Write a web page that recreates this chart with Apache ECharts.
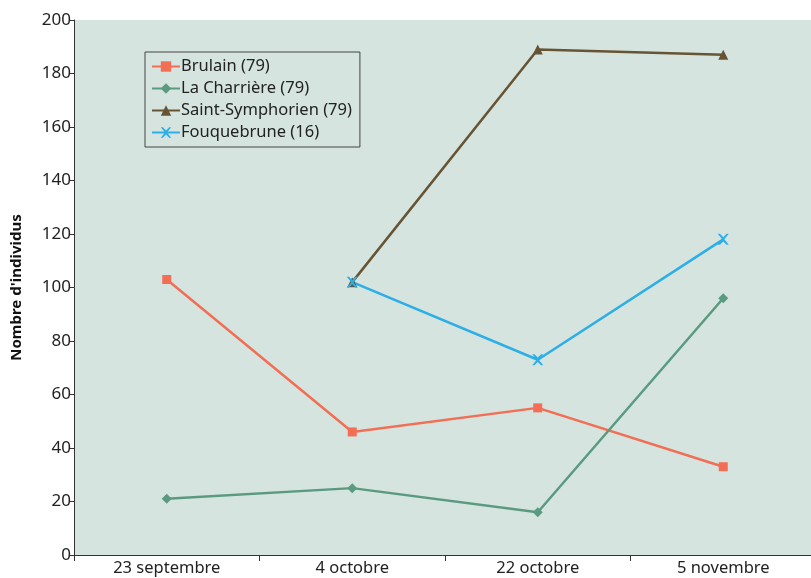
<!DOCTYPE html>
<html><head><meta charset="utf-8">
<script src="https://cdn.jsdelivr.net/npm/echarts@6/dist/echarts.min.js"></script>
<style>html,body{margin:0;padding:0;background:#fff}#c{width:811px;height:578px}</style>
</head><body><div id="c"></div>
<script>
const categories = ['23 septembre', '4 octobre', '22 octobre', '5 novembre'];
const yTicks = [0, 20, 40, 60, 80, 100, 120, 140, 160, 180, 200];
const brulain = [103, 46, 55, 33];
const laCharriere = [21, 25, 16, 96];
const saintSymphorien = [null, 102, 189, 187];
const fouquebrune = [null, 102, 73, 118];
const seriesNames = ['Brulain (79)', 'La Charrière (79)', 'Saint-Symphorien (79)', 'Fouquebrune (16)'];

const FONT = '"Noto Sans", sans-serif';
const chart = echarts.init(document.getElementById('c'));
function mk(name, data, color, symbol, size) {
  return {
    name, type: 'line', data, symbol, symbolSize: size, connectNulls: false,
    lineStyle: { color, width: 2.5 }, itemStyle: { color },
    animation: false
  };
}
chart.setOption({
  animation: false,
  grid: { left: 74, top: 20, width: 742, bottom: 23, show: true, backgroundColor: '#d5e4df', borderWidth: 0,
    containLabel: false, outerBoundsMode: 'none' },
  legend: {
    orient: 'vertical', left: 145, top: 52, itemGap: 5, itemWidth: 28, itemHeight: 13,
    borderColor: '#444', borderWidth: 1, padding: [6, 8, 6, 6], backgroundColor: '#d5e4df',
    textStyle: { fontFamily: FONT, fontSize: 16.5, color: '#222', padding: [0, 0, 0, -4] },
    data: seriesNames
  },
  xAxis: {
    type: 'category', data: categories, boundaryGap: true,
    axisLine: { lineStyle: { color: '#333', width: 1 } },
    axisTick: { show: true, length: 6, inside: false, lineStyle: { color: '#333' } },
    axisLabel: { fontFamily: FONT, fontSize: 16.5, color: '#222', margin: 5 }
  },
  yAxis: {
    type: 'value', min: 0, max: 200, interval: 20,
    name: "Nombre d'individus", nameLocation: 'middle', nameGap: 50, nameRotate: 90,
    nameTextStyle: { fontFamily: FONT, fontSize: 15, fontWeight: 'bold', color: '#111' },
    axisLine: { show: true, lineStyle: { color: '#333', width: 1 } },
    axisTick: { show: true, length: 5, lineStyle: { color: '#333' } },
    splitLine: { show: false },
    axisLabel: { fontFamily: FONT, fontSize: 17, color: '#222', margin: 3,
      formatter: v => yTicks.includes(v) ? String(v) : '' }
  },
  series: [
    mk(seriesNames[0], brulain, '#f26e55', 'rect', 9),
    mk(seriesNames[1], laCharriere, '#5a9a80', 'diamond', 10),
    mk(seriesNames[2], saintSymphorien, '#675434', 'triangle', 10),
    mk(seriesNames[3], fouquebrune, '#2eaee6', 'path://M0,0 L2,0 L5,3 L8,0 L10,0 L6,5 L10,10 L8,10 L5,7 L2,10 L0,10 L4,5 Z', 11)
  ]
});
</script></body></html>
